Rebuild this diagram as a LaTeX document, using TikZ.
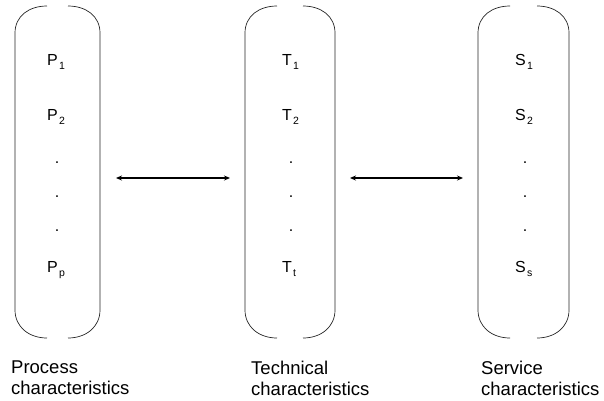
\documentclass[tikz,border=0pt]{standalone}
\usepackage{fontspec}
\setmainfont{Liberation Sans}
\usetikzlibrary{arrows.meta}
\newcommand{\sub}[1]{\kern1.2pt\raisebox{-4pt}{\fontsize{10.5}{10.5}\selectfont #1}}
\begin{document}
\begin{tikzpicture}[x=1pt,y=-1pt,
  bracket/.style={line width=0.7pt,black!85},
  link/.style={line width=1.3pt,{Stealth[length=6pt,width=5pt]}-{Stealth[length=6pt,width=5pt]}},
  item/.style={font=\fontsize{16}{18}\selectfont,inner sep=0pt,anchor=base west},
  dotmark/.style={font=\fontsize{16}{18}\selectfont,inner sep=0pt,anchor=base},
  caption/.style={font=\fontsize{18.5}{21}\selectfont,align=left,anchor=north west,inner sep=0pt}]
\useasboundingbox (0,0) rectangle (604,400);
% two rounded brackets enclosing a column, left edge #1, right edge #2
\newcommand{\colbrackets}[2]{%
  \draw[bracket] ({#1+32},6) .. controls ({#1+14},6) and (#1,16) .. (#1,33)
     -- (#1,310) .. controls (#1,327) and ({#1+14},338) .. ({#1+32},338);
  \draw[bracket] ({#2-32},6) .. controls ({#2-14},6) and (#2,16) .. (#2,33)
     -- (#2,310) .. controls (#2,327) and ({#2-14},338) .. ({#2-32},338);
}
\colbrackets{15}{100}
\colbrackets{245}{335}
\colbrackets{478}{569}
% process column
\node[item] (p1) at (47,65) {P\sub{1}};
\node[item] (p2) at (47,120) {P\sub{2}};
\node[dotmark] (pd1) at (57,163) {.};
\node[dotmark] (pd2) at (57,197) {.};
\node[dotmark] (pd3) at (57,231) {.};
\node[item] (pp) at (47,272) {P\sub{p}};
% technical column
\node[item] (t1) at (282,65) {T\sub{1}};
\node[item] (t2) at (282,120) {T\sub{2}};
\node[dotmark] (td1) at (291,163) {.};
\node[dotmark] (td2) at (291,197) {.};
\node[dotmark] (td3) at (291,231) {.};
\node[item] (tt) at (282,272) {T\sub{t}};
% service column
\node[item] (s1) at (515,65) {S\sub{1}};
\node[item] (s2) at (515,120) {S\sub{2}};
\node[dotmark] (sd1) at (525,163) {.};
\node[dotmark] (sd2) at (525,197) {.};
\node[dotmark] (sd3) at (525,231) {.};
\node[item] (ss) at (515,272) {S\sub{s}};
% links between the columns
\coordinate (l1a) at (116,178);
\coordinate (l1b) at (230,178);
\coordinate (l2a) at (350,178);
\coordinate (l2b) at (463,178);
\draw[link] (l1a) -- (l1b);
\draw[link] (l2a) -- (l2b);
% captions
\node[caption] (cp) at (11,361) {Process\\characteristics};
\node[caption] (ct) at (251,361) {Technical\\characteristics};
\node[caption] (cs) at (481,361) {Service\\characteristics};
\end{tikzpicture}
\end{document}
